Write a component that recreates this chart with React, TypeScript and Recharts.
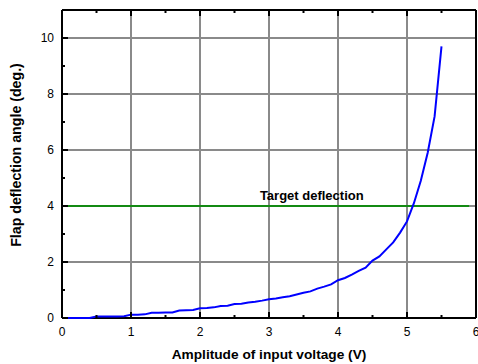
import { LineChart, Line, XAxis, YAxis, ReferenceLine, ReferenceDot } from "recharts";

// measured deflection, volts vs degrees
const VOLTS = [0, 0.1, 0.2, 0.3, 0.4, 0.5, 0.6, 0.7, 0.8, 0.9, 1.0, 1.1, 1.2, 1.3, 1.4, 1.5, 1.6, 1.7, 1.8, 1.9, 2.0, 2.1, 2.2, 2.3, 2.4, 2.5, 2.6, 2.7, 2.8, 2.9, 3.0, 3.1, 3.2, 3.3, 3.4, 3.5, 3.6, 3.7, 3.8, 3.9, 4.0, 4.1, 4.2, 4.3, 4.4, 4.5, 4.6, 4.7, 4.8, 4.9, 5.0, 5.1, 5.2, 5.3, 5.4, 5.5];
const ANGLE = [0, 0, 0, 0, 0, 0.05, 0.05, 0.05, 0.05, 0.06, 0.12, 0.12, 0.13, 0.19, 0.19, 0.2, 0.2, 0.27, 0.28, 0.29, 0.35, 0.36, 0.38, 0.43, 0.44, 0.5, 0.51, 0.55, 0.58, 0.62, 0.67, 0.7, 0.74, 0.78, 0.84, 0.9, 0.95, 1.05, 1.12, 1.2, 1.35, 1.43, 1.55, 1.68, 1.8, 2.05, 2.2, 2.45, 2.7, 3.05, 3.45, 4.1, 4.9, 5.9, 7.2, 9.7];

const TARGET = 4;
const TARGET_END = 5.9;
const TARGET_LABEL_X = 3.62;

const X_TICKS = [0, 0.5, 1, 1.5, 2, 2.5, 3, 3.5, 4, 4.5, 5, 5.5, 6];
const Y_TICKS = [0, 1, 2, 3, 4, 5, 6, 7, 8, 9, 10];
const X_GRID = [1, 2, 3, 4, 5];
const Y_GRID = [2, 4, 6, 8, 10];

const data = VOLTS.map((v, i) => ({ v, a: ANGLE[i] }));

const FONT = "'Liberation Sans', Arial, sans-serif";
const GAP = 9;
const MAJOR = 6;
const MINOR = 3;

function LeftTick({ x, y, payload }: any) {
  const v = payload.value;
  const major = v % 2 === 0;
  const ax = x + GAP;
  return (
    <g>
      <line x1={ax} x2={ax + (major ? MAJOR : MINOR)} y1={y} y2={y} stroke="#000" strokeWidth={2} />
      {major && (
        <text x={x + 1} y={y} dy="0.36em" textAnchor="end" fontSize={12} fontFamily={FONT} fill="#000">
          {v}
        </text>
      )}
    </g>
  );
}

function RightTick({ x, y, payload }: any) {
  const major = payload.value % 2 === 0;
  const ax = x - GAP;
  return <line x1={ax} x2={ax - (major ? MAJOR : MINOR)} y1={y} y2={y} stroke="#000" strokeWidth={2} />;
}

function BottomTick({ x, y, payload }: any) {
  const v = payload.value;
  const major = v % 1 === 0;
  const ay = y - GAP;
  return (
    <g>
      <line x1={x} x2={x} y1={ay} y2={ay - (major ? MAJOR : MINOR)} stroke="#000" strokeWidth={2} />
      {major && (
        <text x={x} y={y} dy="0.72em" textAnchor="middle" fontSize={12} fontFamily={FONT} fill="#000">
          {v}
        </text>
      )}
    </g>
  );
}

function TopTick({ x, y, payload }: any) {
  const major = payload.value % 1 === 0;
  const ay = y + GAP;
  return <line x1={x} x2={x} y1={ay} y2={ay + (major ? MAJOR : MINOR)} stroke="#000" strokeWidth={2} />;
}

function YTitle({ viewBox }: any) {
  const cx = viewBox.x + 15.5;
  const cy = viewBox.y + viewBox.height / 2 - 9;
  return (
    <text x={cx} y={cy} transform={`rotate(-90 ${cx} ${cy})`} textAnchor="middle" dy="0.36em" fontSize={14.2} fontWeight="bold" fontFamily={FONT} fill="#000">
      Flap deflection angle (deg.)
    </text>
  );
}

function XTitle({ viewBox }: any) {
  return (
    <text x={viewBox.x + viewBox.width / 2} y={viewBox.y + viewBox.height - 5} textAnchor="middle" fontSize={13.7} fontWeight="bold" fontFamily={FONT} fill="#000">
      Amplitude of input voltage (V)
    </text>
  );
}

export default function App() {
  return (
    <div style={{ position: "absolute", left: 0, top: 0, background: "#fff" }}>
      <LineChart width={478} height={364} data={data} margin={{ top: 9, right: 1, bottom: 0, left: 0 }}>
        <XAxis
          dataKey="v"
          type="number"
          domain={[0, 6]}
          ticks={X_TICKS}
          interval={0}
          height={46}
          tickSize={0}
          tickMargin={GAP}
          tick={<BottomTick />}
          tickLine={false}
          axisLine={{ stroke: "#000", strokeWidth: 2 }}
          label={<XTitle />}
        />
        <XAxis
          xAxisId="top"
          orientation="top"
          dataKey="v"
          type="number"
          domain={[0, 6]}
          ticks={X_TICKS}
          interval={0}
          height={1}
          tickSize={0}
          tickMargin={GAP}
          tick={<TopTick />}
          tickLine={false}
          axisLine={{ stroke: "#000", strokeWidth: 2 }}
        />
        <YAxis
          type="number"
          domain={[0, 11]}
          ticks={Y_TICKS}
          interval={0}
          width={62}
          tickSize={0}
          tickMargin={GAP}
          tick={<LeftTick />}
          tickLine={false}
          axisLine={{ stroke: "#000", strokeWidth: 2 }}
          label={<YTitle />}
        />
        <YAxis
          yAxisId="right"
          orientation="right"
          type="number"
          domain={[0, 11]}
          ticks={Y_TICKS}
          interval={0}
          width={1}
          tickSize={0}
          tickMargin={GAP}
          tick={<RightTick />}
          tickLine={false}
          axisLine={{ stroke: "#000", strokeWidth: 2 }}
        />
        {X_GRID.map((g) => (
          <ReferenceLine key={"x" + g} x={g} stroke="#8a8a8a" strokeWidth={2} />
        ))}
        {Y_GRID.map((g) => (
          <ReferenceLine key={"y" + g} y={g} stroke="#8a8a8a" strokeWidth={2} />
        ))}
        <ReferenceLine
          segment={[
            { x: 0, y: TARGET },
            { x: TARGET_END, y: TARGET },
          ]}
          stroke="#138a13"
          strokeWidth={2}
        />
        <ReferenceDot
          x={TARGET_LABEL_X}
          y={TARGET}
          r={0}
          stroke="none"
          fill="none"
          label={{ value: "Target deflection", position: "top", offset: 6, fontSize: 13, fontWeight: "bold", fontFamily: FONT, fill: "#000" }}
        />
        <Line type="linear" dataKey="a" stroke="#0000ff" strokeWidth={2} dot={false} isAnimationActive={false} zIndex={600} />
      </LineChart>
    </div>
  );
}
